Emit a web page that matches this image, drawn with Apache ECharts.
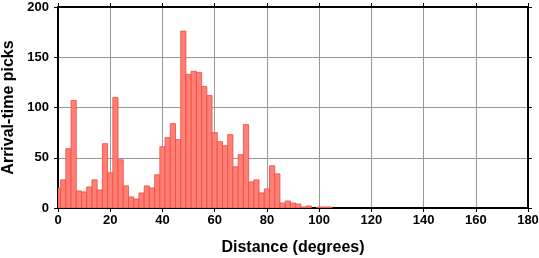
<!DOCTYPE html>
<html>
<head>
<meta charset="utf-8">
<script src="https://cdn.jsdelivr.net/npm/echarts@6/dist/echarts.min.js"></script>
<style>
html,body{margin:0;padding:0;background:#fff;}
#chart{width:539px;height:258px;}
</style>
</head>
<body>
<div id="chart"></div>
<script>
// Bin centres (degrees), 2-degree bins
const binCenters = [0,2,4,6,8,10,12,14,16,18,20,22,24,26,28,30,32,34,36,38,40,42,44,46,48,50,52,54,56,58,60,62,64,66,68,70,72,74,76,78,80,82,84,86,88,90,92,94,96,98,100,102,104];
// Arrival-time picks per bin
const picks = [20,28,59,107,17,16,21,28,18,64,35,110,48,22,11,9,15,22,20,33,61,70,84,68,176,133,136,135,121,112,75,66,62,73,41,53,83,26,28,15,19,42,34,5,7,5,4,1,2,0,1,1,1];
const xTicks = [0,20,40,60,80,100,120,140,160,180];
const yTicks = [0,50,100,150,200];

const data = binCenters.map((c, i) => [c, picks[i]]);
const FONT = '"Liberation Sans", Arial, Helvetica, sans-serif';

const chart = echarts.init(document.getElementById('chart'), null, {renderer: 'canvas'});
const gridLine = {show: true, lineStyle: {color: '#999999', width: 1}};
chart.setOption({
  animation: false,
  backgroundColor: '#fff',
  grid: {left: 58, right: 11, top: 7, bottom: 50, containLabel: false, outerBoundsMode: 'none'},
  xAxis: [{
    type: 'value', min: xTicks[0], max: xTicks[xTicks.length-1], interval: 20,
    position: 'bottom',
    name: 'Distance (degrees)', nameLocation: 'middle', nameGap: 32,
    nameTextStyle: {fontFamily: FONT, fontWeight: 'bold', fontSize: 16, color: '#000'},
    axisLine: {show: true, onZero: false, lineStyle: {color: '#000', width: 2}},
    axisTick: {show: true, inside: false, length: 4, lineStyle: {color: '#000', width: 1}},
    axisLabel: {fontFamily: FONT, fontWeight: 'bold', fontSize: 13, color: '#000', margin: 6},
    splitLine: gridLine
  }, {
    type: 'value', min: xTicks[0], max: xTicks[xTicks.length-1], interval: 20,
    position: 'top',
    axisLine: {show: true, onZero: false, lineStyle: {color: '#000', width: 2}},
    axisTick: {show: true, inside: false, length: 4, lineStyle: {color: '#000', width: 1}},
    axisLabel: {show: false},
    splitLine: {show: false}
  }],
  yAxis: [{
    type: 'value', min: yTicks[0], max: yTicks[yTicks.length-1], interval: 50,
    position: 'left',
    name: 'Arrival-time picks', nameLocation: 'middle', nameGap: 30,
    nameTextStyle: {fontFamily: FONT, fontWeight: 'bold', fontSize: 16, color: '#000'},
    axisLine: {show: true, onZero: false, lineStyle: {color: '#000', width: 2}},
    axisTick: {show: true, inside: false, length: 4, lineStyle: {color: '#000', width: 1}},
    axisLabel: {fontFamily: FONT, fontWeight: 'bold', fontSize: 13, color: '#000', margin: 9},
    splitLine: gridLine
  }, {
    type: 'value', min: yTicks[0], max: yTicks[yTicks.length-1], interval: 50,
    position: 'right',
    axisLine: {show: true, onZero: false, lineStyle: {color: '#000', width: 2}},
    axisTick: {show: true, inside: false, length: 4, lineStyle: {color: '#000', width: 1}},
    axisLabel: {show: false},
    splitLine: {show: false}
  }],
  series: [{
    type: 'custom',
    xAxisIndex: 0, yAxisIndex: 0,
    data: data,
    clip: true,
    renderItem: function (params, api) {
      const c = api.value(0), v = api.value(1);
      if (!v) return null;
      const lo = Math.max(c - 1, 0), hi = Math.min(c + 1, 180);
      const p0 = api.coord([lo, v]);
      const p1 = api.coord([hi, 0]);
      return {
        type: 'rect',
        shape: {x: p0[0], y: p0[1], width: p1[0] - p0[0], height: p1[1] - p0[1]},
        style: {fill: '#FF7F75', stroke: '#F04A40', lineWidth: 0.8}
      };
    }
  }]
});
</script>
</body>
</html>
